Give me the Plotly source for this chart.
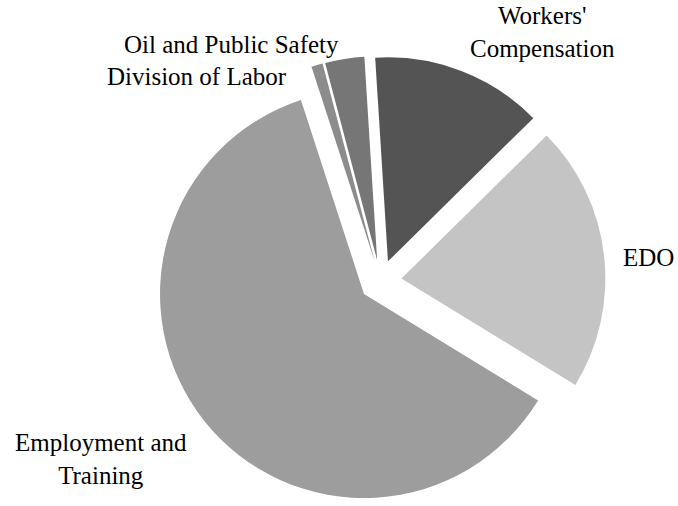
import plotly.graph_objects as go

labels = ["Workers'<br>Compensation", "EDO", "Employment and<br>Training",
          "Division of Labor", "Oil and Public Safety"]
values = [13.6, 21.1, 61.2, 0.9, 3.1]
colors = ["#545454", "#c4c4c4", "#9d9d9d", "#8c8c8c", "#767676"]

# label anchor positions in pixels (centre of each text block)
label_px = [(542, 32), (648, 257), (101, 459), (197, 77), (231, 45)]

W, H = 678, 506
M = dict(l=150, r=67, t=56, b=0)
FONT = "Liberation Serif, Times New Roman, serif"

fig = go.Figure(go.Pie(
    labels=labels,
    values=values,
    sort=False,
    direction="clockwise",
    rotation=-3.6,
    pull=[0.103] * len(values),
    marker=dict(colors=colors, line=dict(width=0)),
    textinfo="none",
    automargin=False,
    hoverinfo="label+percent",
    showlegend=False,
))

pw = W - M["l"] - M["r"]
ph = H - M["t"] - M["b"]
for lab, (px, py) in zip(labels, label_px):
    fig.add_annotation(
        text=lab,
        x=(px - M["l"]) / pw, y=(H - M["b"] - py) / ph,
        xref="paper", yref="paper",
        xanchor="center", yanchor="middle",
        showarrow=False, align="center",
        font=dict(family=FONT, size=25, color="black"),
    )

fig.update_layout(
    template=None,
    width=W, height=H,
    margin=M,
    paper_bgcolor="white",
    plot_bgcolor="white",
)

fig.write_html("out.html")
